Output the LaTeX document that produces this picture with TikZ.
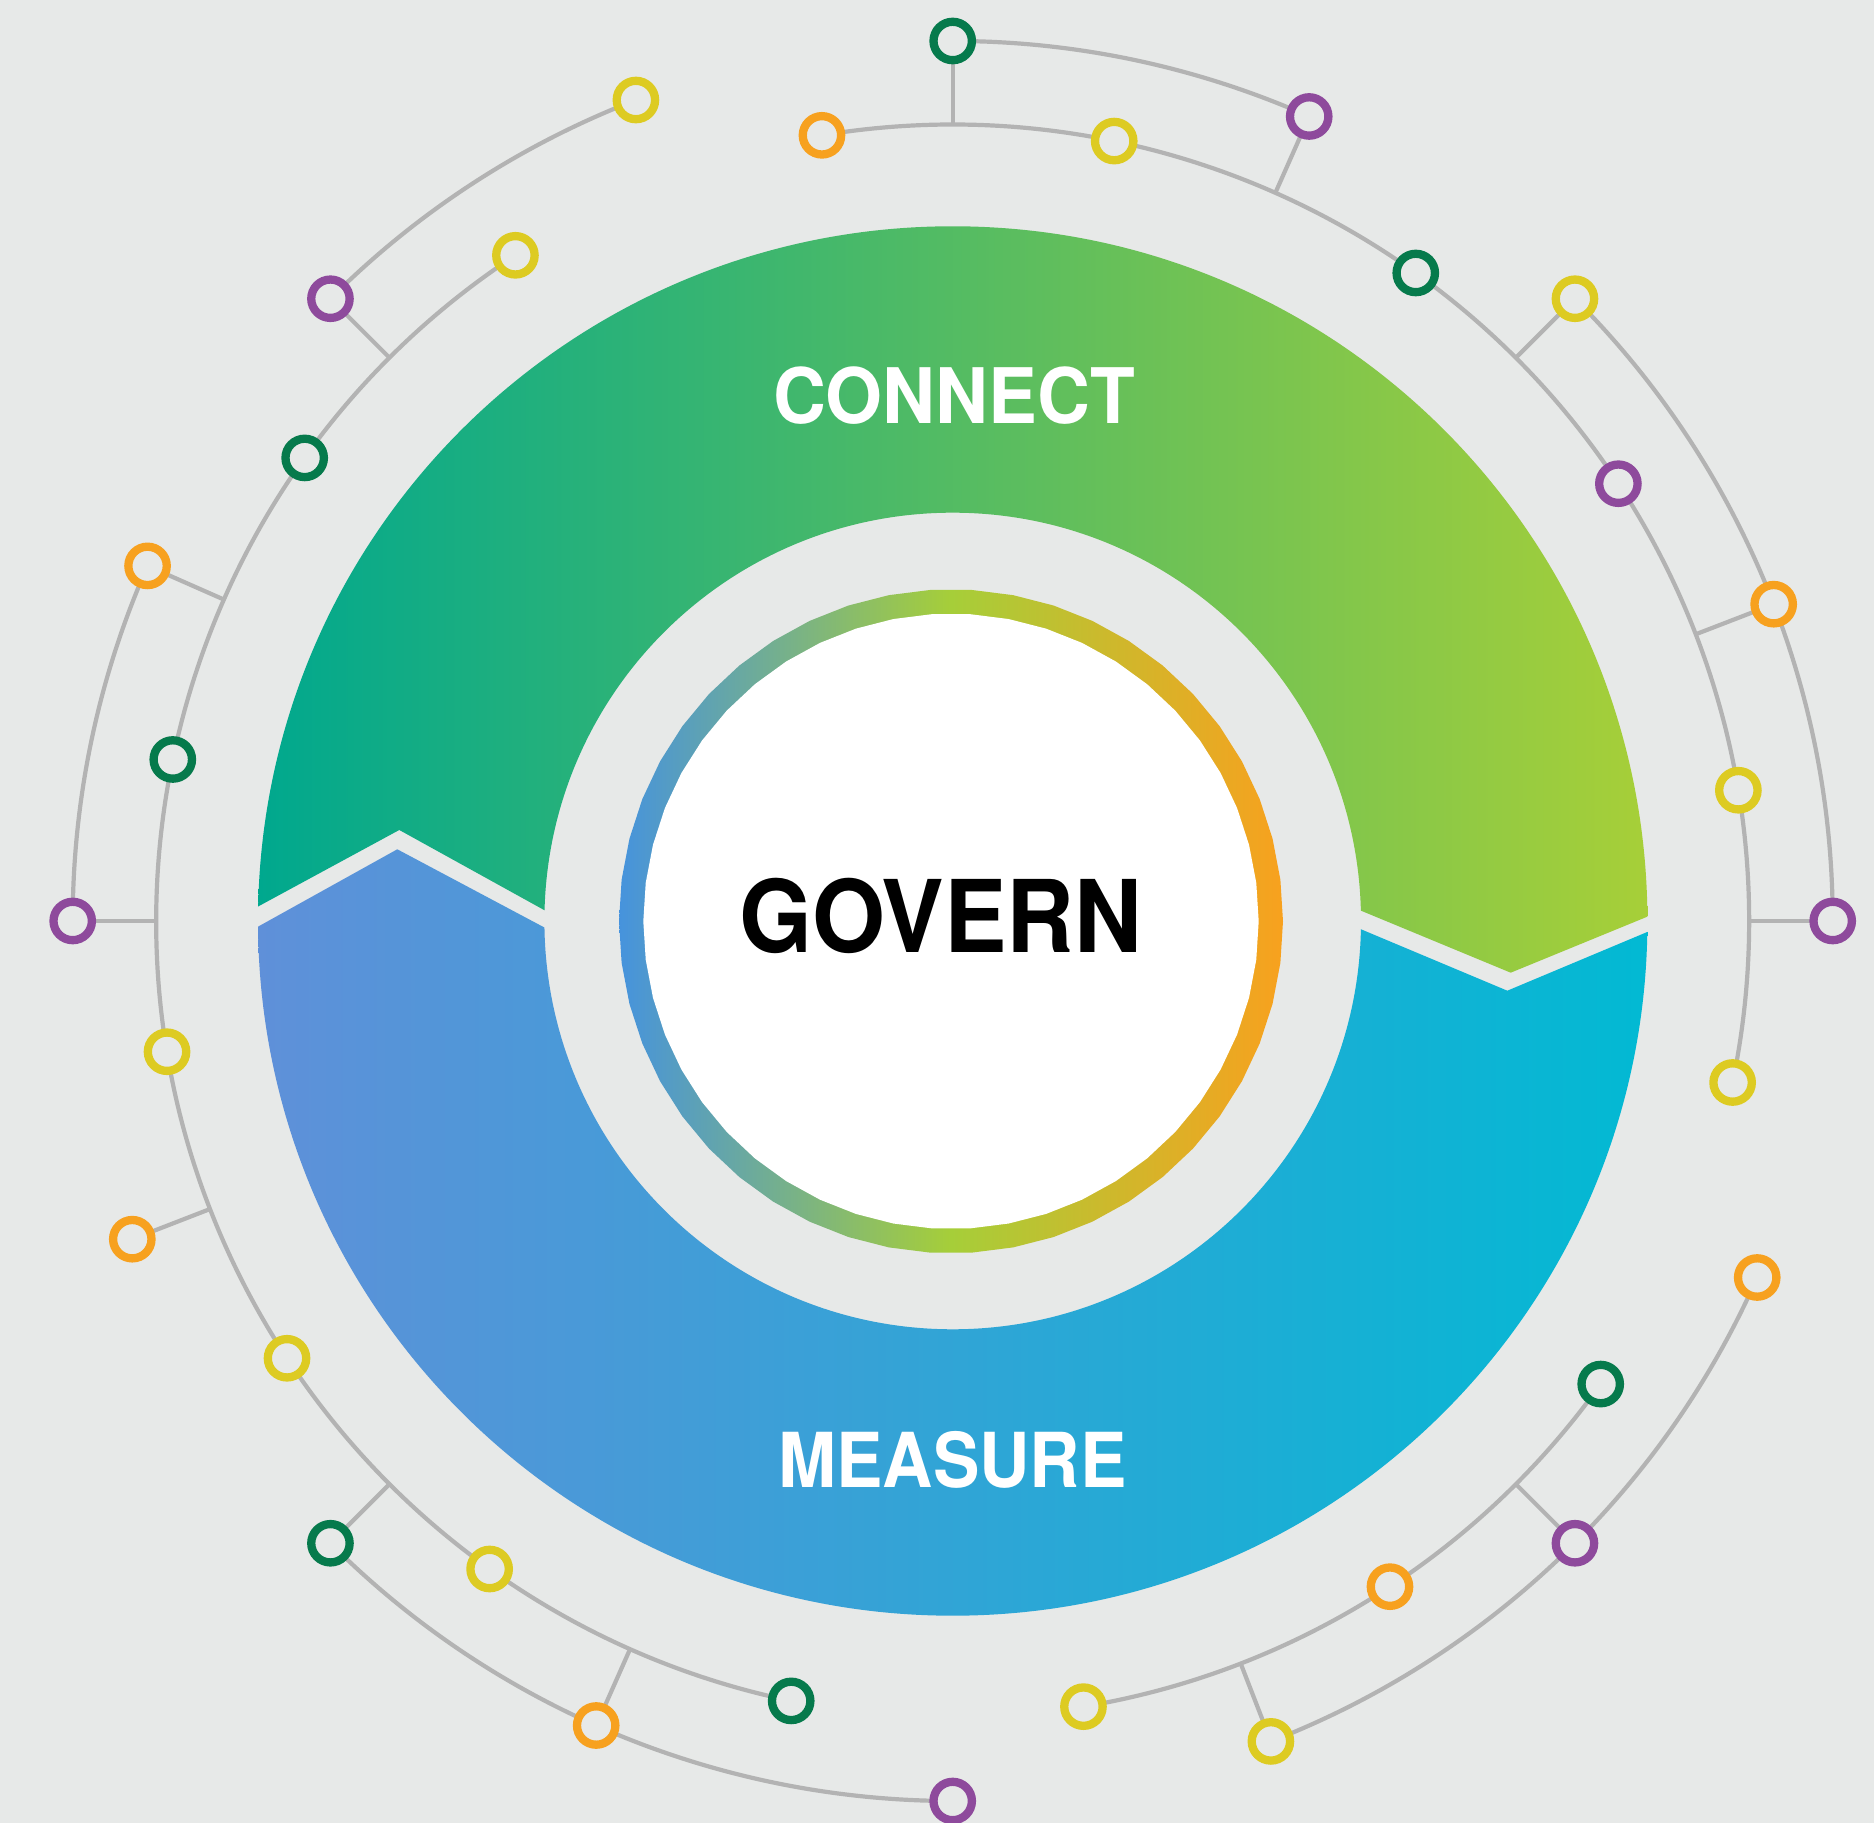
\documentclass[tikz,border=0pt]{standalone}
\usepackage{fontspec}
\setmainfont{TeX Gyre Heros}
\usetikzlibrary{calc}

\definecolor{bg}{HTML}{E7E9E8}
\definecolor{wirecol}{HTML}{B3B3B3}
\definecolor{dotgreen}{HTML}{067A4C}
\definecolor{dotpurple}{HTML}{8E4A9C}
\definecolor{dotorange}{HTML}{F7A11F}
\definecolor{dotyellow}{HTML}{DDCB22}
\definecolor{cnL}{HTML}{00A88E}
\definecolor{cnR}{HTML}{A7CF38}
\definecolor{msL}{HTML}{5F90D9}
\definecolor{msR}{HTML}{02B9D3}
\definecolor{rgL}{HTML}{4693DD}
\definecolor{rgM}{HTML}{A6CE39}
\definecolor{rgR}{HTML}{F8A11E}

\pgfdeclarelayer{back}
\pgfdeclarelayer{wires}
\pgfsetlayers{back,wires,main}

\tikzset{
  hub/.style={circle, draw=#1, line width=8.3pt, fill=bg,
              minimum size=38.4pt, inner sep=0pt, outer sep=0pt},
  wire/.style={draw=wirecol, line width=4.2pt},
  label/.style={inner sep=0pt, anchor=base, font=\bfseries},
}

\begin{document}
\begin{tikzpicture}[x=1pt,y=1pt]
\useasboundingbox (0,0) rectangle (1874,1823);
\begin{pgfonlayer}{back}
  \fill[bg] (0,0) rectangle (1874,1823);
\end{pgfonlayer}

\coordinate (C) at (952.7,902);
\coordinate (R) at (951,901.7);

% upper arrow: CONNECT
\begin{scope}
  \clip (200,1900) -- (200,885) -- (399.3,993) -- (620,871) -- (1290,941.7)
        -- (1510.7,850.3) -- (1720,936.1) -- (1720,1900) -- cycle;
  \shade[left color=cnL, right color=cnR, even odd rule]
        (C) circle[radius=694.7] (C) circle[radius=408.3];
\end{scope}

% lower arrow: MEASURE
\begin{scope}
  \clip (200,-100) -- (200,864.1) -- (397.3,973.7) -- (620,855.3) -- (1290,923.5)
        -- (1507.3,832.3) -- (1720,921.5) -- (1720,-100) -- cycle;
  \shade[left color=msL, right color=msR, even odd rule]
        (C) circle[radius=694.7] (C) circle[radius=408.3];
\end{scope}

% faceted colour ring around the centre disc
\shade[left color=rgL, right color=rgR, middle color=rgM]
  plot[samples=51, domain=180:540] ({951+332*cos(\x)},{901.7+332*sin(\x)}) -- cycle;
\fill[white]
  plot[samples=51, domain=180:540] ({951+307.7*cos(\x)},{901.7+307.7*sin(\x)}) -- cycle;

\node[label, font=\fontsize{100.3}{105}\selectfont\bfseries] (govern) at (940.8,870.3)
  {\scalebox{0.935}[1]{GOVERN}};
\node[label, text=white, font=\fontsize{76.6}{80}\selectfont\bfseries] (connect) at (953.9,1399.7)
  {\scalebox{0.956}[1]{CONNECT}};
\node[label, text=white, font=\fontsize{75.8}{80}\selectfont\bfseries] (measure) at (952.5,335.3)
  {\scalebox{0.919}[1]{MEASURE}};

% outer ring of hubs
\foreach \nm/\ang/\col in {o0/0/dotpurple, o1/21.1/dotorange, o2/45/dotyellow,
    o3/66.1/dotpurple, o4/90/dotgreen, o5/111.1/dotyellow, o6/135/dotpurple,
    o7/156.2/dotorange, o8/180/dotpurple, o9/201.2/dotorange, o10/225/dotgreen,
    o11/246.1/dotorange, o12/270/dotpurple, o13/291.2/dotyellow, o14/315/dotpurple,
    o15/336.1/dotorange}
  \node[hub=\col] (\nm) at ($(C)+(\ang:880)$) {};

% inner ring of hubs
\foreach \nm/\ang/\col in {n0/-11.7/dotyellow, n1/9.45/dotyellow, n2/33.3/dotpurple,
    n3/54.45/dotgreen, n4/78.3/dotyellow, n5/99.45/dotorange, n6/123.3/dotyellow,
    n7/144.45/dotgreen, n8/168.3/dotgreen, n9/189.45/dotyellow, n10/213.3/dotyellow,
    n11/234.45/dotyellow, n12/258.3/dotgreen, n13/279.45/dotyellow, n14/303.3/dotorange,
    n15/324.45/dotgreen}
  \node[hub=\col] (\nm) at ($(C)+(\ang:796.5)$) {};

% junctions on the inner track
\foreach \nm/\ang in {j0/0, j1/21.1, j2/45, j3/66.1, j4/90, j6/135, j7/156.2,
    j8/180, j9/201.2, j10/225, j11/246.1, j13/291.2, j14/315}
  \coordinate (\nm) at ($(C)+(\ang:796.5)$);

\begin{pgfonlayer}{wires}
  % inner track
  \draw[wire] (n5.center) arc[start angle=99.45, end angle=-11.7, radius=796.5];
  \draw[wire] (n15.center) arc[start angle=324.45, end angle=279.45, radius=796.5];
  \draw[wire] (n6.center) arc[start angle=123.3, end angle=258.3, radius=796.5];
  % outer track
  \draw[wire] (o3.center) arc[start angle=66.1, end angle=90, radius=880];
  \draw[wire] (o5.center) arc[start angle=111.1, end angle=135, radius=880];
  \draw[wire] (o7.center) arc[start angle=156.2, end angle=180, radius=880];
  \draw[wire] (o10.center) arc[start angle=225, end angle=270, radius=880];
  \draw[wire] (o13.center) arc[start angle=291.2, end angle=336.1, radius=880];
  \draw[wire] (o0.center) arc[start angle=0, end angle=45, radius=880];
  % radial links
  \foreach \k in {0,1,2,3,4,6,7,8,9,10,11,13,14}
    \draw[wire] (o\k.center) -- (j\k);
\end{pgfonlayer}
\end{tikzpicture}
\end{document}
